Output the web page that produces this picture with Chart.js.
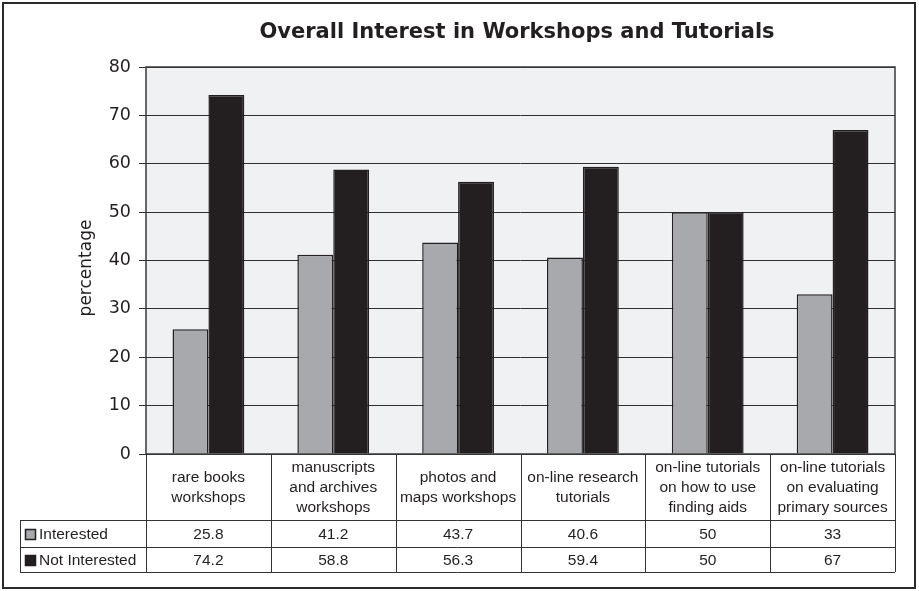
<!DOCTYPE html>
<html>
<head>
<meta charset="utf-8">
<script src="https://cdn.jsdelivr.net/npm/chart.js@4/dist/chart.umd.min.js"></script>
<style>
  html, body { margin: 0; padding: 0; background: #fff; }
  canvas { display: block; }
</style>
</head>
<body>
<canvas id="interestChart" width="919" height="591"></canvas>
<script>
// categories, split into the lines used in the table header
var categories = [
    ['rare books', 'workshops'],
    ['manuscripts', 'and archives', 'workshops'],
    ['photos and', 'maps workshops'],
    ['on-line research', 'tutorials'],
    ['on-line tutorials', 'on how to use', 'finding aids'],
    ['on-line tutorials', 'on evaluating', 'primary sources']
];
var seriesNames = ['Interested', 'Not Interested'];
var interested = [25.8, 41.2, 43.7, 40.6, 50, 33];
var notInterested = [74.2, 58.8, 56.3, 59.4, 50, 67];
var yTicks = [0, 10, 20, 30, 40, 50, 60, 70, 80];

var ink = '#231f20';
var seriesColors = ['#a7a9ac', '#231f20'];

// background of plot + frame, titles, and the data table under the chart
var excelLook = {
    id: 'excelLook',
    beforeDraw: function (chart) {
        var ctx = chart.ctx, a = chart.chartArea;
        ctx.save();
        ctx.fillStyle = '#fff';
        ctx.fillRect(0, 0, chart.width, chart.height);
        ctx.fillStyle = '#f0f1f3';
        ctx.fillRect(a.left, a.top, a.right - a.left, a.bottom - a.top);
        ctx.restore();
    },
    afterDraw: function (chart) {
        var ctx = chart.ctx, a = chart.chartArea;
        var xs = chart.scales.x;
        var n = categories.length;
        var step = (a.right - a.left) / n;
        ctx.save();

        // plot frame
        ctx.strokeStyle = '#3a3a3a';
        ctx.lineWidth = 1.5;
        ctx.strokeRect(a.left, a.top, a.right - a.left, a.bottom - a.top);

        // title
        ctx.fillStyle = ink;
        ctx.font = 'bold 21px "DejaVu Sans"';
        ctx.textAlign = 'center';
        ctx.textBaseline = 'middle';
        ctx.fillText('Overall Interest in Workshops and Tutorials', 517, 33);

        // y axis title
        ctx.save();
        ctx.translate(87, 268);
        ctx.rotate(-Math.PI / 2);
        ctx.font = '17px "DejaVu Sans"';
        ctx.fillText('percentage', 0, 0);
        ctx.restore();

        // data table
        var headBottom = 520, row1 = 547, row2 = 572, legendLeft = 20;
        ctx.strokeStyle = '#333';
        ctx.lineWidth = 1;
        ctx.beginPath();
        for (var i = 0; i <= n; i++) {
            var bx = Math.round(a.left + i * step) + 0.5;
            ctx.moveTo(bx, a.bottom);
            ctx.lineTo(bx, row2);
        }
        ctx.moveTo(legendLeft + 0.5, headBottom);
        ctx.lineTo(legendLeft + 0.5, row2);
        [headBottom, row1, row2].forEach(function (yy) {
            ctx.moveTo(legendLeft, yy + 0.5);
            ctx.lineTo(a.right, yy + 0.5);
        });
        ctx.stroke();

        ctx.font = '15.5px "Liberation Sans"';
        ctx.fillStyle = ink;
        ctx.textAlign = 'center';
        var headMid = (a.bottom + headBottom) / 2 + 1;
        categories.forEach(function (lines, i) {
            var cx = xs.getPixelForValue(i);
            var top = headMid - (lines.length - 1) * 10;
            lines.forEach(function (t, j) {
                ctx.fillText(t, cx, top + j * 20);
            });
        });

        var rows = [interested, notInterested];
        var rowMids = [(headBottom + row1) / 2 + 1, (row1 + row2) / 2 + 1];
        rows.forEach(function (vals, r) {
            vals.forEach(function (v, i) {
                ctx.fillText(String(v), xs.getPixelForValue(i), rowMids[r]);
            });
        });

        // legend keys inside the table
        ctx.textAlign = 'left';
        seriesNames.forEach(function (name, r) {
            var ky = Math.round(rowMids[r] - 6);
            ctx.fillStyle = seriesColors[r];
            ctx.fillRect(25, ky, 11, 11);
            ctx.strokeStyle = ink;
            ctx.lineWidth = 1.5;
            ctx.strokeRect(25.5, ky + 0.5, 10, 10);
            ctx.fillStyle = ink;
            ctx.fillText(name, 39, rowMids[r]);
        });

        // outer border
        ctx.strokeStyle = '#2a2a2a';
        ctx.lineWidth = 2;
        ctx.strokeRect(3, 3, 912, 585);
        ctx.restore();
    }
};

var ctx = document.getElementById('interestChart');
var chart = new Chart(ctx, {
    type: 'bar',
    data: {
        labels: categories,
        datasets: [{
            label: seriesNames[0],
            data: interested,
            backgroundColor: seriesColors[0],
            borderColor: ink,
            borderWidth: 1.5
        }, {
            label: seriesNames[1],
            data: notInterested,
            backgroundColor: seriesColors[1],
            borderColor: ink,
            borderWidth: 1.5
        }]
    },
    options: {
        responsive: false,
        animation: false,
        layout: { padding: { left: 0, top: 67, right: 24, bottom: 137 } },
        datasets: { bar: { categoryPercentage: 0.575, barPercentage: 1 } },
        plugins: {
            legend: { display: false },
            tooltip: { enabled: false },
            title: { display: false }
        },
        scales: {
            x: { display: false },
            y: {
                min: 0,
                max: 80,
                afterBuildTicks: function (scale) {
                    scale.ticks = yTicks.map(function (v) { return { value: v }; });
                },
                afterFit: function (scale) { scale.width = 146; },
                ticks: {
                    color: ink,
                    padding: 8,
                    font: { family: 'DejaVu Sans', size: 17.5 }
                },
                grid: { color: '#2f2f2f', lineWidth: 1, tickLength: 7 },
                border: { display: false }
            }
        }
    },
    plugins: [excelLook]
});
</script>
</body>
</html>
